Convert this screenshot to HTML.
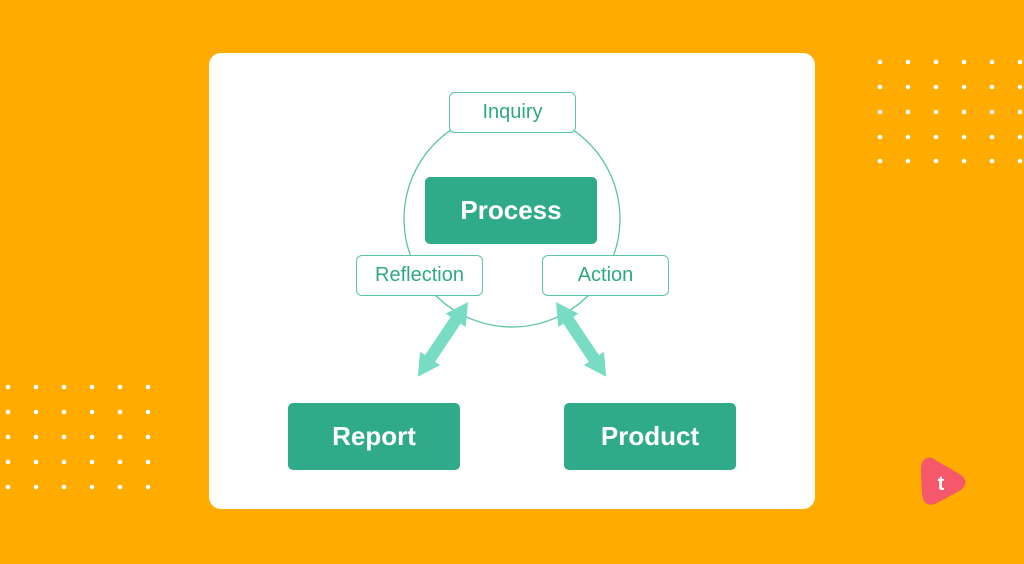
<!DOCTYPE html>
<html><head><style>
body{margin:0;width:1024px;height:564px;background:#FFAB00;position:relative;overflow:hidden;font-family:"Liberation Sans",sans-serif}
.card{position:absolute;left:209px;top:53px;width:606px;height:456px;background:#fff;border-radius:12px}
.box{position:absolute;border:1.5px solid #5cc4a6;border-radius:6px;background:#fff;color:#2fa985;font-size:20px;display:flex;align-items:center;justify-content:center;box-sizing:border-box}
.solid{position:absolute;background:#2fab89;color:#fff;font-weight:bold;font-size:26px;border-radius:5px;display:flex;align-items:center;justify-content:center}
</style></head><body>
<svg width="1024" height="564" style="position:absolute;left:0;top:0">
<g fill="#fff">
<g id="r"><circle cx="880" cy="62" r="2.3"/><circle cx="908" cy="62" r="2.3"/><circle cx="936" cy="62" r="2.3"/><circle cx="964" cy="62" r="2.3"/><circle cx="992" cy="62" r="2.3"/><circle cx="1020" cy="62" r="2.3"/></g>
<use href="#r" y="25"/><use href="#r" y="50"/><use href="#r" y="75"/><use href="#r" y="99"/>
<g id="l"><circle cx="8" cy="387" r="2.3"/><circle cx="36" cy="387" r="2.3"/><circle cx="64" cy="387" r="2.3"/><circle cx="92" cy="387" r="2.3"/><circle cx="120" cy="387" r="2.3"/><circle cx="148" cy="387" r="2.3"/></g>
<use href="#l" y="25"/><use href="#l" y="50"/><use href="#l" y="75"/><use href="#l" y="100"/>
</g>
<path d="M932 458 Q921 456 921 470 L922 494 Q924 509 937 503 L961 490 Q970 482 961 475 Z" fill="#F5586A"/>
<text x="941" y="490" fill="#fff" font-size="20" font-weight="bold" text-anchor="middle" font-family="Liberation Sans">t</text>
</svg>
<div class="card"></div>
<svg width="1024" height="564" style="position:absolute;left:0;top:0">
<circle cx="512" cy="219" r="108" fill="none" stroke="#5cc4a6" stroke-width="1.3"/>
<g fill="#77dcc3">
<g transform="translate(468,302) rotate(123.9)">
<polygon points="0,0 22,-12 22,12"/><polygon points="90,0 68,-12 68,12"/><rect x="20" y="-6" width="50" height="12"/>
</g>
<g transform="translate(556,302) rotate(56.1)">
<polygon points="0,0 22,-12 22,12"/><polygon points="90,0 68,-12 68,12"/><rect x="20" y="-6" width="50" height="12"/>
</g>
</g>
</svg>
<div class="box" style="left:449px;top:92px;width:127px;height:41px">Inquiry</div>
<div class="solid" style="left:425px;top:177px;width:172px;height:67px">Process</div>
<div class="box" style="left:356px;top:255px;width:127px;height:41px">Reflection</div>
<div class="box" style="left:542px;top:255px;width:127px;height:41px">Action</div>
<div class="solid" style="left:288px;top:403px;width:172px;height:67px">Report</div>
<div class="solid" style="left:564px;top:403px;width:172px;height:67px">Product</div>
</body></html>
